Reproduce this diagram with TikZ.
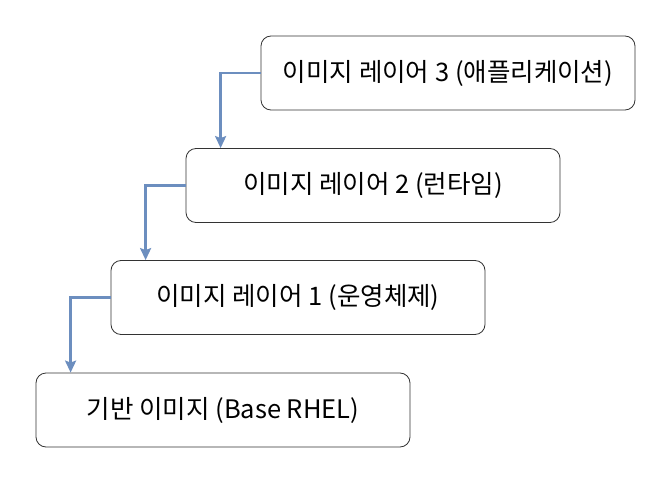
\documentclass[tikz,border=0pt]{standalone}
\usepackage{fontspec}
\setmainfont{Noto Sans CJK KR}
\usepackage{tikz}
\usetikzlibrary{arrows.meta}

\definecolor{linkblue}{HTML}{6C8EBF}
\definecolor{boxgray}{HTML}{333333}

\begin{document}
\begin{tikzpicture}[
		x=1pt, y=-1pt,
		every node/.style={rectangle, rounded corners=10pt, draw=boxgray, line width=0.8pt,
			minimum width=374pt, minimum height=74pt, font=\fontsize{25.5}{30}\selectfont},
		link/.style={draw=linkblue, line width=2.4pt, -{Stealth[length=12pt, width=11pt, inset=2pt]}}
	]
  \useasboundingbox (0,0) rectangle (672,484);
  \node (layer3) at (448, 73) {이미지 레이어 3 (애플리케이션)};
  \node (layer2) at (373, 185.5) {이미지 레이어 2 (런타임)};
  \node (layer1) at (298, 297.5) {이미지 레이어 1 (운영체제)};
  \node (base) at (223, 410) {기반 이미지 (Base RHEL)};
  \draw[link] (layer3.west) -| ([xshift=35pt]layer2.north west);
  \draw[link] (layer2.west) -| ([xshift=35pt]layer1.north west);
  \draw[link] (layer1.west) -| ([xshift=35pt]base.north west);
\end{tikzpicture}
\end{document}
